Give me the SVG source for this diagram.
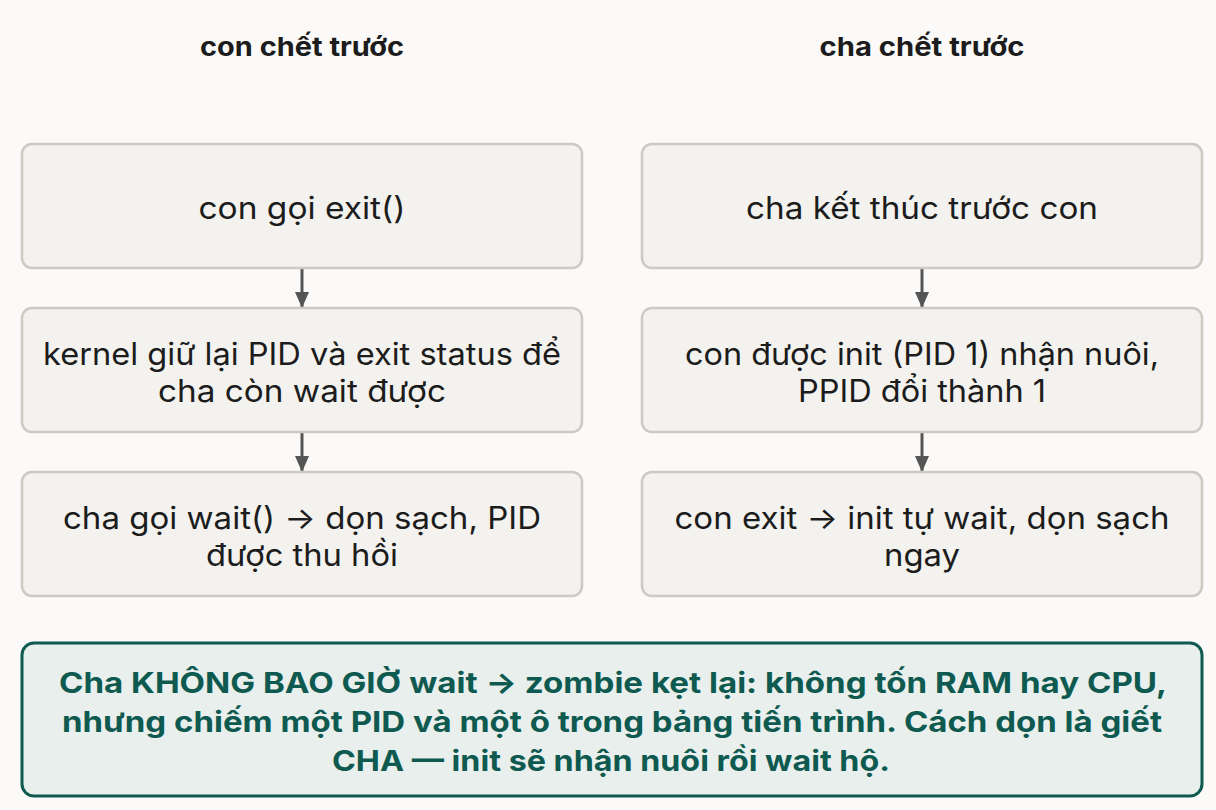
<svg xmlns="http://www.w3.org/2000/svg" width="1216" height="810" viewBox="0 0 1216 810">
<style>
.bg{fill:#fbfaf8}
.box{fill:#f3f2ef;stroke:#cdcac3;stroke-width:2.5}
.t{font-family:Inter,"Noto Sans",sans-serif;font-size:31px;fill:#1c1c1c;text-anchor:middle}
.h{font-family:Inter,"Noto Sans",sans-serif;font-size:26px;font-weight:700;fill:#1c1c1c;text-anchor:middle}
.note{fill:#e8efec;stroke:#0f5a50;stroke-width:3}
.n{font-family:Inter,"Noto Sans",sans-serif;font-size:29px;font-weight:700;fill:#0f5a50;text-anchor:middle}
.c{stroke:#555;stroke-width:3;fill:none}
</style>
<defs>
<marker id="ah" viewBox="0 0 16 14" refX="16" refY="7" markerWidth="16" markerHeight="14" markerUnits="userSpaceOnUse" orient="auto">
<path d="M0,0 L16,7 L0,14 z" fill="#555"/>
</marker>
</defs>
<rect class="bg" x="0" y="0" width="1216" height="810"/>
<g id="title-left"><text class="h" x="302" y="56" textLength="204" lengthAdjust="spacingAndGlyphs">con chết trước</text></g>
<g id="title-right"><text class="h" x="922" y="56" textLength="205" lengthAdjust="spacingAndGlyphs">cha chết trước</text></g>
<g id="connectors">
<path class="c" d="M302,269 V308" marker-end="url(#ah)"/>
<path class="c" d="M302,433 V472" marker-end="url(#ah)"/>
<path class="c" d="M922,269 V308" marker-end="url(#ah)"/>
<path class="c" d="M922,433 V472" marker-end="url(#ah)"/>
</g>
<g id="l1"><rect class="box" x="22" y="144" width="560" height="124" rx="10"/><text class="t" x="302" y="219" textLength="207" lengthAdjust="spacingAndGlyphs">con gọi exit()</text></g>
<g id="l2"><rect class="box" x="22" y="308" width="560" height="124" rx="10"/><text class="t" x="302" y="365" textLength="518" lengthAdjust="spacingAndGlyphs">kernel giữ lại PID và exit status để</text><text class="t" x="302" y="402" textLength="288" lengthAdjust="spacingAndGlyphs">cha còn wait được</text></g>
<g id="l3"><rect class="box" x="22" y="472" width="560" height="124" rx="10"/><text class="t" x="302" y="529" textLength="478" lengthAdjust="spacingAndGlyphs">cha gọi wait() → dọn sạch, PID</text><text class="t" x="302" y="566" textLength="192" lengthAdjust="spacingAndGlyphs">được thu hồi</text></g>
<g id="r1"><rect class="box" x="642" y="144" width="560" height="124" rx="10"/><text class="t" x="922" y="219" textLength="352" lengthAdjust="spacingAndGlyphs">cha kết thúc trước con</text></g>
<g id="r2"><rect class="box" x="642" y="308" width="560" height="124" rx="10"/><text class="t" x="922" y="365" textLength="474" lengthAdjust="spacingAndGlyphs">con được init (PID 1) nhận nuôi,</text><text class="t" x="922" y="402" textLength="248" lengthAdjust="spacingAndGlyphs">PPID đổi thành 1</text></g>
<g id="r3"><rect class="box" x="642" y="472" width="560" height="124" rx="10"/><text class="t" x="922" y="529" textLength="495" lengthAdjust="spacingAndGlyphs">con exit → init tự wait, dọn sạch</text><text class="t" x="922" y="566" textLength="76" lengthAdjust="spacingAndGlyphs">ngay</text></g>
<g id="note"><rect class="note" x="22" y="643" width="1180" height="153" rx="12"/>
<text class="n" x="613" y="693" textLength="1108" lengthAdjust="spacingAndGlyphs">Cha KHÔNG BAO GIỜ wait → zombie kẹt lại: không tốn RAM hay CPU,</text>
<text class="n" x="612" y="732" textLength="1100" lengthAdjust="spacingAndGlyphs">nhưng chiếm một PID và một ô trong bảng tiến trình. Cách dọn là giết</text>
<text class="n" x="611" y="771" textLength="558" lengthAdjust="spacingAndGlyphs">CHA — init sẽ nhận nuôi rồi wait hộ.</text></g>
</svg>
